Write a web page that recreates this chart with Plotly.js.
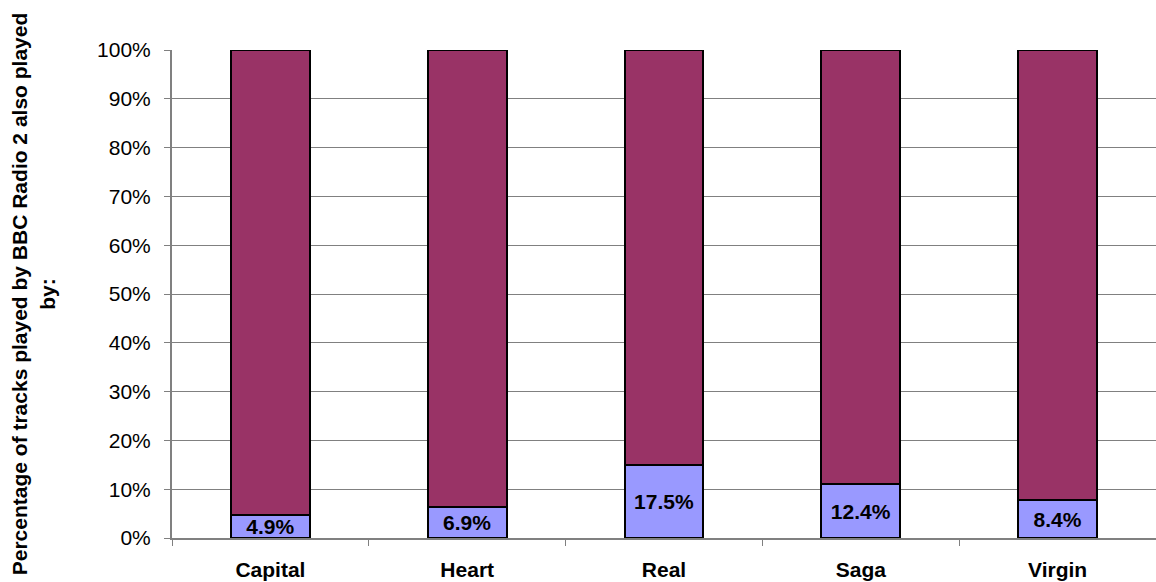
<!DOCTYPE html>
<html>
<head>
<meta charset="utf-8">
<script src="https://cdn.plot.ly/plotly-3.0.1.min.js"></script>
<style>html,body{margin:0;padding:0;background:#fff;}#chart{width:1156px;height:582px;}</style>
</head>
<body>
<div id="chart"></div>
<script>
const stations = ["Capital", "Heart", "Real", "Saga", "Virgin"];
const alsoPlayed = [4.9, 6.9, 17.5, 12.4, 8.4];
const radio2Total = [100, 100, 100, 100, 100];
const yTickVals = [0, 10, 20, 30, 40, 50, 60, 70, 80, 90, 100];
const yTickText = ["0%", "10%", "20%", "30%", "40%", "50%", "60%", "70%", "80%", "90%", "100%"];

const labels = alsoPlayed.map(v => v.toFixed(1) + "%");
const FONT = "Arial, Liberation Sans, sans-serif";

const traces = [
  {
    type: "bar", x: stations, y: alsoPlayed, name: "Also played",
    marker: {color: "#9999FF", line: {color: "#000000", width: 2}},
    text: labels, textposition: "inside", insidetextanchor: "middle",
    textangle: 0, constraintext: "none",
    textfont: {family: FONT, size: 21, color: "#000000", weight: "bold"},
    hoverinfo: "none"
  },
  {
    type: "bar", x: stations, y: radio2Total, name: "Radio 2",
    marker: {color: "#993366", line: {color: "#000000", width: 2}},
    hoverinfo: "none"
  }
];

const layout = {
  width: 1156, height: 582,
  margin: {l: 172, r: 0, t: 50, b: 44, pad: 0},
  barmode: "stack", barnorm: "percent", bargap: 0.6,
  showlegend: false,
  paper_bgcolor: "#ffffff", plot_bgcolor: "#ffffff",
  font: {family: FONT, size: 21, color: "#000000"},
  xaxis: {
    type: "category", tickson: "boundaries", ticks: "outside", ticklen: 6, tickwidth: 1, tickcolor: "#808080",
    showline: true, linecolor: "#808080", linewidth: 2,
    showgrid: false, ticklabelstandoff: 12,
    tickfont: {family: FONT, size: 21, color: "#000000", weight: "bold"}
  },
  yaxis: {
    range: [0, 100], tickvals: yTickVals, ticktext: yTickText,
    ticks: "outside", ticklen: 6, tickwidth: 1, tickcolor: "#808080",
    showline: true, linecolor: "#808080", linewidth: 2,
    showgrid: true, gridcolor: "#808080", gridwidth: 1, zeroline: false,
    ticklabelstandoff: 9,
    tickfont: {family: FONT, size: 21, color: "#000000"},
    title: {
      text: "Percentage of tracks played by BBC Radio 2 also played<br>by:",
      font: {family: FONT, size: 21, color: "#000000", weight: "bold"},
      standoff: 36
    }
  }
};

Plotly.newPlot("chart", traces, layout, {staticPlot: true, displayModeBar: false});
</script>
</body>
</html>
